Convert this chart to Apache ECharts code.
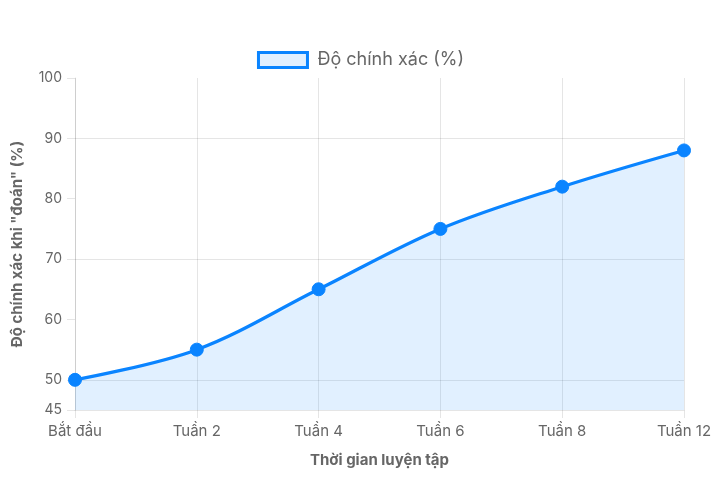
<!DOCTYPE html>
<html><head><meta charset="utf-8">
<script src="https://cdn.jsdelivr.net/npm/echarts@6/dist/echarts.min.js"></script>
<style>html,body{margin:0;padding:0;background:#fff}#c{width:721px;height:482px}</style>
</head><body><div id="c"></div>
<script>
const categories = ['Bắt đầu', 'Tuần 2', 'Tuần 4', 'Tuần 6', 'Tuần 8', 'Tuần 12'];
const accuracy = [50, 55, 65, 75, 82, 88];
const yTickValues = [45, 50, 60, 70, 80, 90, 100];
const seriesName = 'Độ chính xác (%)';
const xTitle = 'Thời gian luyện tập';
const yTitle = 'Độ chính xác khi "đoán" (%)';

const FONT = 'Inter, "Noto Sans", sans-serif';
const GRID = 'rgba(0,0,0,0.1)';
const BLUE = '#0a84ff';
const FILL = 'rgba(10,132,255,0.12)';
const chart = echarts.init(document.getElementById('c'), null, {renderer: 'canvas'});
chart.setOption({
  animation: false,
  textStyle: {fontFamily: FONT},
  legend: {
    top: 46, left: 'center',
    itemWidth: 49, itemHeight: 15, itemGap: 10,
    textStyle: {fontSize: 18, color: '#666', fontFamily: FONT, padding: [0, 0, 0, 5]},
    data: [{name: seriesName, icon: 'rect', itemStyle: {color: FILL, borderColor: BLUE, borderWidth: 3, opacity: 1}}]
  },
  grid: {left: 75, right: 37, top: 78, bottom: 72},
  xAxis: {
    type: 'category', data: categories, boundaryGap: false,
    name: xTitle, nameLocation: 'middle', nameGap: 43,
    nameTextStyle: {fontSize: 15, fontWeight: 'bold', color: '#666', fontFamily: FONT},
    axisLine: {show: true, lineStyle: {color: GRID, width: 1}},
    axisTick: {show: true, length: 8, lineStyle: {color: GRID}},
    axisLabel: {fontSize: 15, color: '#666', margin: 14, fontFamily: FONT},
    splitLine: {show: true, lineStyle: {color: GRID}}
  },
  yAxis: {
    type: 'value', min: 45, max: 100, interval: 5,
    name: yTitle, nameLocation: 'middle', nameGap: 50, nameRotate: 90,
    nameTextStyle: {fontSize: 15, fontWeight: 'bold', color: '#666', fontFamily: FONT},
    axisLine: {show: true, lineStyle: {color: GRID, width: 1}},
    axisTick: {show: true, length: 8, lineStyle: {color: GRID}, customValues: yTickValues},
    axisLabel: {fontSize: 14, color: '#666', margin: 13, fontFamily: FONT, customValues: yTickValues},
    splitLine: {show: true, lineStyle: {color: ['transparent', GRID]}}
  },
  series: [{
    name: seriesName, type: 'line', data: accuracy,
    smooth: 0.35,
    symbol: 'circle', symbolSize: 13,
    itemStyle: {color: BLUE, borderColor: BLUE},
    lineStyle: {color: BLUE, width: 3.2},
    areaStyle: {color: FILL, opacity: 1, origin: 'start'}
  }]
});
</script></body></html>
